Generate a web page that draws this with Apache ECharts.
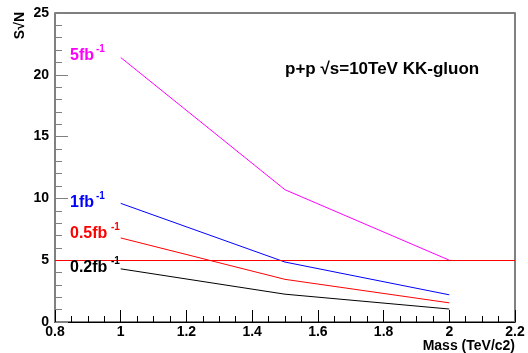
<!DOCTYPE html>
<html><head><meta charset="utf-8">
<script src="https://cdn.jsdelivr.net/npm/echarts@6/dist/echarts.min.js"></script>
<style>html,body{margin:0;padding:0;background:#fff}#c{width:528px;height:353px}</style>
</head><body><div id="c"></div>
<script>
const masses = [1, 1.5, 2];
const lumi5 = [21.4, 10.7, 5.0];
const lumi1 = [9.6, 4.85, 2.2];
const lumi05 = [6.8, 3.45, 1.55];
const lumi02 = [4.3, 2.25, 1.05];
const threshold = 5;
const seriesNames = ['5fb', '1fb', '0.5fb', '0.2fb'];
const seriesColors = ['#ff00ff', '#0000ff', '#ff0000', '#000000'];
const seriesValues = [lumi5, lumi1, lumi05, lumi02];

const F = 'Liberation Sans, Arial, sans-serif';
const chart = echarts.init(document.getElementById('c'), null, {renderer: 'canvas'});
const series = seriesValues.map((vals, i) => ({
  type: 'line', name: seriesNames[i], data: masses.map((m, j) => [m, vals[j]]),
  symbol: 'none', lineStyle: {color: seriesColors[i], width: 1}, z: 3
}));
series[3].markLine = {
  silent: true, symbol: 'none', label: {show: false},
  lineStyle: {color: '#ff0000', width: 1, type: 'solid'},
  data: [{yAxis: threshold}]
};
function lbl(name, color, x, y, supX) {
  return [
    {type: 'text', left: x, top: y, z: 10, style: {text: name, fontFamily: F, fontWeight: 'bold', fontSize: 16, fill: color}},
    {type: 'text', left: supX, top: y - 4, z: 10, style: {text: '-1', fontFamily: F, fontWeight: 'bold', fontSize: 10, fill: color}}
  ];
}
chart.setOption({
  animation: false,
  grid: {left: 55, right: 13, top: 13, bottom: 31, show: true, borderColor: '#000', borderWidth: 1},
  xAxis: [{
    type: 'value', min: 0.8, max: 2.2, interval: 0.2,
    axisLine: {onZero: false, lineStyle: {color: '#000', width: 1}},
    axisTick: {inside: true, length: 12, lineStyle: {color: '#000'}},
    minorTick: {show: true, splitNumber: 4, length: 6, lineStyle: {color: '#000'}},
    splitLine: {show: false},
    axisLabel: {fontFamily: F, fontWeight: 'bold', fontSize: 14, color: '#000', margin: 3,
      formatter: v => String(+v.toFixed(1))},
    name: 'Mass (TeV/c2)', nameLocation: 'end', nameGap: 0,
    nameTextStyle: {fontFamily: F, fontWeight: 'bold', fontSize: 14, color: '#000',
      align: 'right', verticalAlign: 'top', padding: [17, 0, 0, 0]}
  }],
  yAxis: [{
    type: 'value', min: 0, max: 25, interval: 5,
    axisLine: {onZero: false, lineStyle: {color: '#808080', width: 2}},
    axisTick: {inside: true, length: 13, lineStyle: {color: '#808080', width: 1}},
    minorTick: {show: true, splitNumber: 5, length: 7, lineStyle: {color: '#808080'}},
    splitLine: {show: false},
    axisLabel: {fontFamily: F, fontWeight: 'bold', fontSize: 14, color: '#000', margin: 6}
  }, {
    type: 'value', min: 0, max: 25, position: 'right',
    axisLine: {show: true, lineStyle: {color: '#808080', width: 2}},
    axisTick: {show: false}, axisLabel: {show: false}, splitLine: {show: false}
  }],
  series: series,
  graphic: [].concat(
    lbl('5fb', '#ff00ff', 70, 48, 96),
    lbl('1fb', '#0000ff', 70, 195, 96),
    lbl('0.5fb', '#ff0000', 70, 226, 111),
    lbl('0.2fb', '#000000', 70, 260, 111),
    [{type: 'text', left: 285, top: 61, z: 10, style: {text: 'p+p \u221As=10TeV KK-gluon',
      fontFamily: F, fontWeight: 'bold', fontSize: 17, fill: '#000'}},
    {type: 'text', left: 13, top: 12, rotation: Math.PI / 2, z: 10, originX: 0, originY: 0,
      style: {text: 'S\u221AN', fontFamily: F, fontWeight: 'bold', fontSize: 14, fill: '#000',
        align: 'right', verticalAlign: 'top'}}]
  )
});
</script></body></html>
